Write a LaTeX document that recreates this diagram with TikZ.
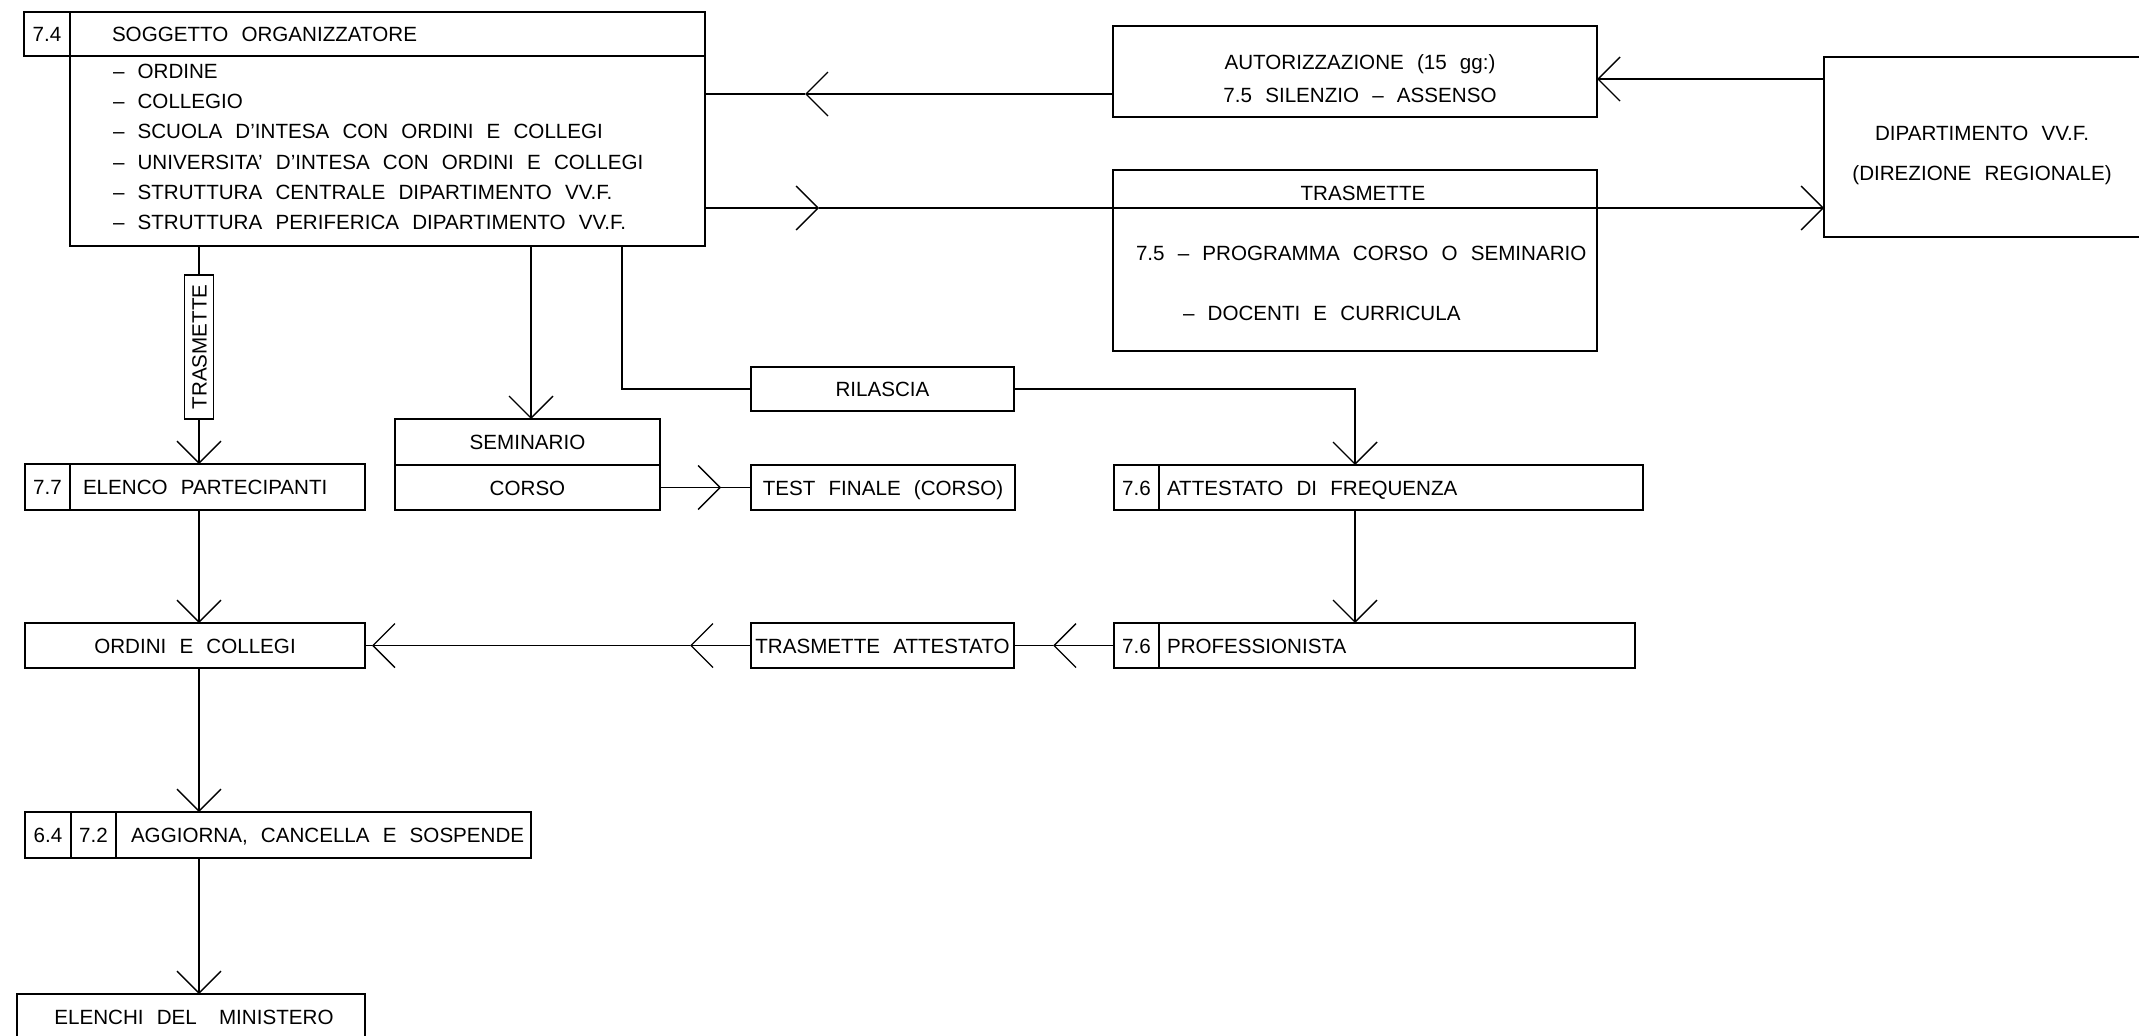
\documentclass[tikz,border=0pt]{standalone}
\usepackage{fontspec}
\setmainfont{Liberation Sans}[WordSpace=2.3]
\usetikzlibrary{arrows.meta}
\begin{document}
\begin{tikzpicture}[x=1pt,y=-1pt,
  line width=1.4pt,
  font=\fontsize{20.6pt}{24pt}\selectfont,
  bx/.style={draw, inner sep=0pt, outer sep=0pt, text height=15pt, text depth=0pt},
  txt/.style={inner sep=0pt, outer sep=0pt, text height=15pt, text depth=0pt},
  arr/.style={-{Straight Barb[length=22pt,width=44pt]}},
]
\useasboundingbox (0,0) rectangle (2139,1036);
\fill[white] (0,0) rectangle (2139,1036);

% soggetto organizzatore
\node[bx, minimum width=46pt, minimum height=44pt] (c74) at (47,34) {7.4};
\node[bx, minimum width=635pt, minimum height=44pt] (hdr) at (387.5,34) {};
\node[txt, anchor=west] (hdrt) at (112,34) {SOGGETTO ORGANIZZATORE};
\node[bx, minimum width=635pt, minimum height=190pt] (body) at (387.5,151) {};
\foreach \t [count=\i] in {– ORDINE, – COLLEGIO, – SCUOLA D'INTESA CON ORDINI E COLLEGI, – UNIVERSITA' D'INTESA CON ORDINI E COLLEGI, – STRUTTURA CENTRALE DIPARTIMENTO VV.F., – STRUTTURA PERIFERICA DIPARTIMENTO VV.F.}
  \node[txt, anchor=west] (b\i) at (113,{71+30.2*(\i-1)}) {\t};

% autorizzazione
\node[bx, minimum width=484pt, minimum height=91pt] (auto) at (1355,71.5) {};
\node[txt] (auto1) at (1360,62) {AUTORIZZAZIONE (15 gg:)};
\node[txt] (auto2) at (1360,95) {7.5 SILENZIO – ASSENSO};

% dipartimento
\node[bx, minimum width=400pt, minimum height=180pt] (dip) at (2024,147) {};
\node[txt] (dip1) at (1982,133) {DIPARTIMENTO VV.F.};
\node[txt] (dip2) at (1982,173) {(DIREZIONE REGIONALE)};

% trasmette box
\node[bx, minimum width=484pt, minimum height=181pt] (trb) at (1355,260.5) {};
\node[txt] (trt) at (1363,193) {TRASMETTE};
\node[txt, anchor=west] (tr1) at (1136,253) {7.5 – PROGRAMMA CORSO O SEMINARIO};
\node[txt, anchor=west] (tr2) at (1183,313) {– DOCENTI E CURRICULA};

% middle boxes
\node[bx, minimum width=263pt, minimum height=44pt] (ril) at (882.5,389) {RILASCIA};
\node[bx, minimum width=265pt, minimum height=46pt] (sem) at (527.5,442) {SEMINARIO};
\node[bx, minimum width=265pt, minimum height=45pt] (cor) at (527.5,487.5) {CORSO};
\node[bx, minimum width=264pt, minimum height=45pt] (tst) at (883,487.5) {TEST FINALE (CORSO)};

\node[bx, rotate=90, minimum width=144pt, minimum height=29pt] (lab) at (199,347) {TRASMETTE};

\node[bx, minimum width=45pt, minimum height=46pt] (c77) at (47.5,487) {7.7};
\node[bx, minimum width=295pt, minimum height=46pt] (elp) at (217.5,487) {};
\node[txt, anchor=west] (elpt) at (83,487) {ELENCO PARTECIPANTI};

\node[bx, minimum width=45pt, minimum height=45pt] (c76a) at (1136.5,487.5) {7.6};
\node[bx, minimum width=484pt, minimum height=45pt] (att) at (1401,487.5) {};
\node[txt, anchor=west] (attt) at (1167,487.5) {ATTESTATO DI FREQUENZA};

\node[bx, minimum width=45pt, minimum height=45pt] (c76b) at (1136.5,645.5) {7.6};
\node[bx, minimum width=476pt, minimum height=45pt] (prof) at (1397,645.5) {};
\node[txt, anchor=west] (proft) at (1167,645.5) {PROFESSIONISTA};

\node[bx, minimum width=263pt, minimum height=45pt] (tra) at (882.5,645.5) {TRASMETTE ATTESTATO};
\node[bx, minimum width=340pt, minimum height=45pt] (ord) at (195,645.5) {ORDINI E COLLEGI};

\node[bx, minimum width=46pt, minimum height=46pt] (c64) at (48,835) {6.4};
\node[bx, minimum width=45pt, minimum height=46pt] (c72) at (93.5,835) {7.2};
\node[bx, minimum width=415pt, minimum height=46pt] (agg) at (323.5,835) {};
\node[txt, anchor=west] (aggt) at (131,835) {AGGIORNA, CANCELLA E SOSPENDE};

\node[bx, minimum width=348pt, minimum height=86pt] (elm) at (191,1037) {};
\node[txt] (elmt) at (194,1017) {ELENCHI DEL\hspace{9pt} MINISTERO};

% coordinates
\coordinate (k0) at (531,300);
\coordinate (k1) at (622,389);
\coordinate (k2) at (1355,389);
\coordinate (k3) at (1053,645.5);
\coordinate (k4) at (690,645.5);
\coordinate (k5) at (372,645.5);
\coordinate (k6) at (721,487.5);
\coordinate (k7) at (805,94);
\coordinate (k8) at (1700,79);
\coordinate (k9) at (819,208);

% connectors
\draw (body.south -| lab) -- (lab);
\draw[arr] (lab) -- (elp.north -| lab);
\draw[arr] (body.south -| k0) -- (sem.north -| k0);
\draw (body.south -| k1) -- (k1) -- (ril.west);
\draw[arr] (ril.east) -- (k2) -- (att.north -| k2);
\draw[arr] (att.south -| k2) -- (prof.north -| k2);
\draw[arr] (c76b.west) -- (k3);
\draw (k3) -- (tra.east);
\draw[arr] (tra.west) -- (k4);
\draw[arr] (k4) -- (k5);
\draw (k5) -- (ord.east);
\draw[arr] (cor.east) -- (k6);
\draw (k6) -- (tst.west);
\draw[arr] (elp.south -| lab) -- (ord.north -| lab);
\draw[arr] (ord.south -| lab) -- (agg.north -| lab);
\draw[arr] (agg.south -| lab) -- (elm.north -| lab);
\draw[arr] (auto.west |- k7) -- (k7);
\draw (k7) -- (body.east |- k7);
\draw[arr] (dip.west |- k8) -- (auto.east |- k8);
\draw[arr] (body.east |- k9) -- (k9);
\draw[arr] (k9) -- (dip.west |- k9);
\end{tikzpicture}
\end{document}
